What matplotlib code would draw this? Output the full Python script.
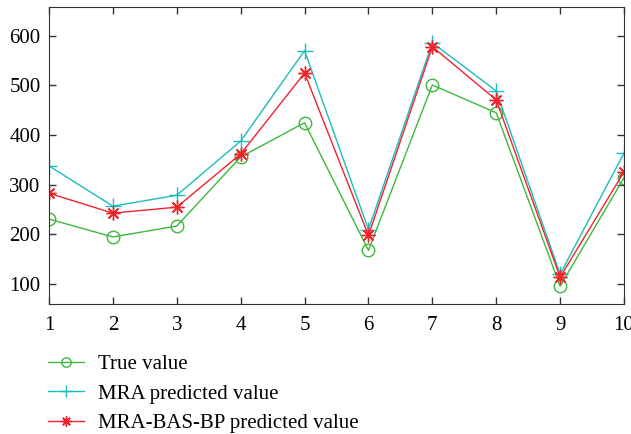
import matplotlib
matplotlib.use("Agg")
import matplotlib.pyplot as plt

# values
x = [1, 2, 3, 4, 5, 6, 7, 8, 9, 10]
true_value = [231, 195, 217, 356, 425, 168, 501, 445, 96, 314]
mra_value = [338, 257, 279, 388, 570, 210, 586, 489, 120, 364]
bas_bp_value = [283, 243, 255, 362, 525, 198, 578, 471, 114, 326]

plt.rcParams['font.family'] = ['Liberation Serif', 'DejaVu Serif']

fig = plt.figure(figsize=(6.31, 4.34), dpi=100)
ax = fig.add_axes([49 / 631, 1 - 304 / 434, 575 / 631, 297 / 434])

ax.plot(x, true_value, color='#3cb83c', marker='o', markersize=9,
        markerfacecolor='none', lw=1, label='True value')
ax.plot(x, mra_value, color='#1cbcbc', marker='+', markersize=11,
        lw=1, label='MRA predicted value')
ax.plot(x, bas_bp_value, color='#f0232d', marker=(8, 2, 0), markersize=10,
        lw=1, label='MRA-BAS-BP predicted value')

ax.set_xlim(1, 10)
ax.set_ylim(60, 658)
ax.set_xticks(x)
ax.set_yticks([100, 200, 300, 400, 500, 600])
ax.tick_params(direction='in', top=True, right=True, labelsize=15,
               length=5, color='#333333', width=1, pad=6)
ax.tick_params(axis='x', pad=9)
for s in ax.spines.values():
    s.set_color('#333333')

fig.legend(loc='upper left', bbox_to_anchor=(0.06, 0.207), frameon=False,
           fontsize=15, handlelength=1.7, handletextpad=0.7,
           labelspacing=0.47, borderpad=0, markerscale=0.75)

fig.savefig('out.png', dpi=100)
